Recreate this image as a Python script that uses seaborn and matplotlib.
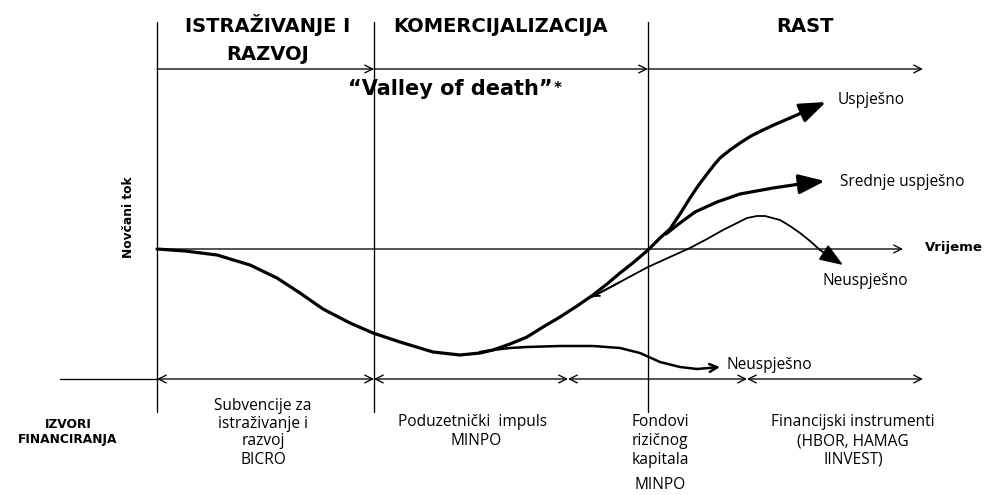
import matplotlib
matplotlib.use("Agg")
import matplotlib.pyplot as plt
import seaborn as sns

# Diagram drawn in pixel space of the 984x495 picture (y grows downward)

# phases and funding sources
phase_titles = ["ISTRAŽIVANJE I", "KOMERCIJALIZACIJA", "RAST", "RAZVOJ"]
phase_title_x = [268, 501, 805, 268]
phase_title_base = [32, 32, 32, 60]
phase_edges = [157, 374, 648]
funding_edges = [157, 374, 568, 747, 923]

# cash-flow curve (thick)
main_x = [157, 185, 217, 250, 277, 300, 323, 350, 373, 400, 433, 460, 480, 493, 510,
          527, 543, 560, 577, 593, 607, 620, 634, 648, 660, 670, 680, 690, 698, 707,
          714, 720, 730, 740, 751, 763, 776, 790]
main_y = [249, 251, 255, 265, 278, 293, 309, 323, 333, 342, 352, 355, 353, 350, 344,
          337, 327, 317, 306, 295, 284, 273, 262, 250, 238, 229, 214, 198, 186, 174,
          165, 158, 150, 143, 136, 130, 124, 118]
uspjesno_tip = (826, 102)

# "Srednje uspjesno" branch
srednje_x = [666, 680, 695, 717, 740, 773, 800]
srednje_y = [234, 223, 212, 202, 194, 188, 184]
srednje_tip = (825, 181)

# upper "Neuspjesno" branch (thin)
neusp1_x = [592, 620, 648, 670, 690, 707, 723, 735, 747, 757, 765, 780, 790, 800, 810, 820]
neusp1_y = [297, 282, 267, 257, 248, 239, 230, 224, 218, 216, 216, 220, 226, 233, 241, 250]
neusp1_tip = (843, 265)

# lower "Neuspjesno" branch
neusp2_x = [480, 493, 510, 527, 560, 593, 620, 640, 660, 680, 697]
neusp2_y = [352, 350, 348, 347, 346, 346, 348, 353, 362, 367, 369]
neusp2_tip = (720, 367)

# labels
outcome_labels = ["Uspješno", "Srednje uspješno", "Neuspješno", "Neuspješno"]
outcome_x = [838, 840, 823, 727]
outcome_y = [100, 182, 281, 365]

source_lines = ["Subvencije za", "istraživanje i", "razvoj", "BICRO",
                "Poduzetnički  impuls", "MINPO",
                "Fondovi", "rizičnog", "kapitala", "MINPO",
                "Financijski instrumenti", "(HBOR, HAMAG", "IINVEST)"]
source_x = [263, 263, 263, 263, 473, 476, 660, 660, 660, 660, 853, 853, 853]
source_y = [406, 424, 441, 460, 422, 441, 422, 441, 460, 485, 422, 441, 460]

sns.set_theme(style="white")
plt.rcParams["font.family"] = ["Open Sans", "DejaVu Sans"]
plt.rcParams["text.color"] = "black"

BOLD_FONT = "DejaVu Sans"

fig = plt.figure(figsize=(9.84, 4.95), dpi=100)
ax = fig.add_axes([0, 0, 1, 1])
ax.set_xlim(0, 984)
ax.set_ylim(495, 0)
ax.axis("off")

K = "black"
AX_LW = 0.95


def arrow(x0, y0, x1, y1, style="->", lw=AX_LW, scale=14):
    ax.annotate("", xy=(x1, y1), xytext=(x0, y0),
                arrowprops=dict(arrowstyle=style, lw=lw, color=K,
                                shrinkA=0, shrinkB=0, mutation_scale=scale))


def curve(xs, ys, lw):
    sns.lineplot(x=xs, y=ys, sort=False, estimator=None, color=K, lw=lw, ax=ax,
                 solid_joinstyle="round", solid_capstyle="round")


# phase separators
for x in phase_edges:
    ax.plot([x, x], [22, 412], color=K, lw=AX_LW)

# top phase arrows
for a, b in zip(phase_edges, phase_edges[1:] + [923]):
    arrow(a, 69, b, 69)

# time axis
arrow(157, 249, 903, 249)

# funding arrows
ax.plot([60, 157], [379, 379], color=K, lw=AX_LW)
for a, b in zip(funding_edges[:-1], funding_edges[1:]):
    arrow(a, 379, b, 379, style="<->")

# curves
THICK = 2.3
BIG_HEAD = "-|>,head_length=0.8,head_width=0.3"
curve(main_x, main_y, THICK)
arrow(main_x[-1], main_y[-1], *uspjesno_tip, style=BIG_HEAD, lw=THICK, scale=20)

curve(srednje_x, srednje_y, THICK)
arrow(srednje_x[-1], srednje_y[-1], *srednje_tip, style=BIG_HEAD, lw=THICK, scale=20)

curve(neusp1_x, neusp1_y, 1.3)
arrow(neusp1_x[-1], neusp1_y[-1], *neusp1_tip, style=BIG_HEAD, lw=1.3, scale=18)
arrow(neusp1_x[1], neusp1_y[1], neusp1_x[0], neusp1_y[0], style="->", lw=1.3, scale=10)

curve(neusp2_x, neusp2_y, 1.8)
arrow(neusp2_x[-1], neusp2_y[-1], *neusp2_tip, style="->", lw=1.8, scale=14)

# headings
for t, x, y in zip(phase_titles, phase_title_x, phase_title_base):
    ax.text(x, y, t, ha="center", va="baseline", fontsize=14, fontweight="bold",
            family=BOLD_FONT)
ax.text(348, 95, "\u201cValley of death\u201d", ha="left", va="baseline", fontsize=15,
        fontweight="bold", family=BOLD_FONT)
ax.text(554, 88, "*", ha="left", va="center", fontsize=11, fontweight="bold",
        family=BOLD_FONT)

ax.text(128, 217, "Novčani tok", rotation=90, ha="center", va="center", fontsize=8.8,
        fontweight="bold", family=BOLD_FONT)
ax.text(925, 248, "Vrijeme", ha="left", va="center", fontsize=9.5, fontweight="bold",
        family=BOLD_FONT)

for t, x, y in zip(outcome_labels, outcome_x, outcome_y):
    ax.text(x, y, t, ha="left", va="center", fontsize=11.2)

ax.text(68, 424, "IZVORI", ha="center", va="center", fontsize=8.8, fontweight="bold",
        family=BOLD_FONT)
ax.text(68, 440, "FINANCIRANJA", ha="center", va="center", fontsize=8.8,
        fontweight="bold", family=BOLD_FONT)

for t, x, y in zip(source_lines, source_x, source_y):
    ax.text(x, y, t, ha="center", va="center", fontsize=11.2)

fig.savefig("out.png", dpi=100)
